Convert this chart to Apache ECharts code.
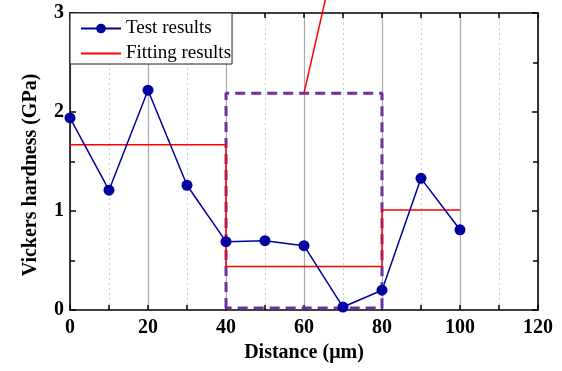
<!DOCTYPE html>
<html>
<head>
<meta charset="utf-8">
<script src="https://cdn.jsdelivr.net/npm/echarts@6/dist/echarts.min.js"></script>
<style>html,body{margin:0;padding:0;background:#fff}#c{width:562px;height:371px}</style>
</head>
<body>
<div id="c"></div>
<script>
// Test results
const distances = [0, 10, 20, 30, 40, 50, 60, 70, 80, 90, 100];
const hardness = [1.94, 1.21, 2.22, 1.26, 0.69, 0.70, 0.65, 0.03, 0.20, 1.33, 0.81];
// Fitting results (step fit)
const fitX = [0, 40, 40, 80, 80, 100];
const fitY = [1.67, 1.67, 0.44, 0.44, 1.01, 1.01];
// Fitting pointer line leaving the plot
const pointerX = [60, 67];
const pointerY = [2.19, 3.4];
// Highlighted region (dashed box)
const boxX = [40, 40, 80, 80, 40];
const boxY = [0.02, 2.19, 2.19, 0.02, 0.02];
const xTicks = [0, 20, 40, 60, 80, 100, 120];
const yTicks = [0, 1, 2, 3];

const serif = 'Liberation Serif, Times New Roman, serif';
const zip = (a, b) => a.map((v, i) => [v, b[i]]);

const chart = echarts.init(document.getElementById('c'), null, {renderer: 'canvas'});
const axisLine = {show: true, onZero: false, lineStyle: {color: '#000', width: 1.5}};
chart.setOption({
  animation: false,
  backgroundColor: '#fff',
  grid: {left: 70, right: 24, top: 13, bottom: 61, containLabel: false},
  legend: {
    data: ['Test results', {name: 'Fitting results', itemStyle: {opacity: 0}}],
    orient: 'vertical',
    left: 70, top: 13,
    backgroundColor: '#fff',
    borderColor: '#222', borderWidth: 1, borderRadius: 0,
    padding: [6, 1, 1, 10],
    itemWidth: 40, itemHeight: 12, itemGap: 6,
    textStyle: {fontFamily: serif, fontSize: 19, color: '#000'},
    z: 10
  },
  xAxis: [{
    type: 'value', min: xTicks[0], max: xTicks[xTicks.length - 1], interval: 20,
    name: 'Distance (μm)', nameLocation: 'middle', nameGap: 33,
    nameTextStyle: {fontFamily: serif, fontSize: 20, fontWeight: 'bold', color: '#000'},
    axisLine: axisLine,
    axisTick: {show: true, inside: true, length: 5, lineStyle: {color: '#000', width: 1.5}},
    minorTick: {show: true, splitNumber: 2, length: 5, lineStyle: {color: '#000', width: 1.5}},
    axisLabel: {fontFamily: serif, fontSize: 20, fontWeight: 'bold', color: '#000', margin: 8},
    splitLine: {show: true, lineStyle: {color: '#aaa', width: 1.2}},
    minorSplitLine: {show: true, lineStyle: {color: '#ccc', width: 1, type: [2, 3]}}
  }, {
    type: 'value', position: 'top', min: 0, max: 120, interval: 20,
    axisLine: axisLine,
    axisTick: {show: true, inside: true, length: 5, lineStyle: {color: '#000', width: 1.5}},
    minorTick: {show: true, splitNumber: 2, length: 5, lineStyle: {color: '#000', width: 1.5}},
    axisLabel: {show: false}, splitLine: {show: false}
  }],
  yAxis: [{
    type: 'value', min: yTicks[0], max: yTicks[yTicks.length - 1], interval: 1,
    name: 'Vickers hardness (GPa)', nameLocation: 'middle', nameGap: 29,
    nameTextStyle: {fontFamily: serif, fontSize: 20, fontWeight: 'bold', color: '#000', padding: [0, 27, 0, 0]},
    axisLine: axisLine,
    axisTick: {show: true, inside: true, length: 6, lineStyle: {color: '#000', width: 1.5}},
    minorTick: {show: true, splitNumber: 2, length: 5, lineStyle: {color: '#000', width: 1.5}},
    axisLabel: {fontFamily: serif, fontSize: 20, fontWeight: 'bold', color: '#000', margin: 6},
    splitLine: {show: false}
  }, {
    type: 'value', position: 'right', min: 0, max: 3, interval: 1,
    axisLine: axisLine,
    axisTick: {show: true, inside: true, length: 6, lineStyle: {color: '#000', width: 1.5}},
    minorTick: {show: true, splitNumber: 2, length: 5, lineStyle: {color: '#000', width: 1.5}},
    axisLabel: {show: false}, splitLine: {show: false}
  }],
  series: [{
    name: 'Highlight', type: 'line', data: zip(boxX, boxY),
    symbol: 'none', silent: true, z: 1,
    lineStyle: {color: '#7030a0', width: 3, type: [10, 6]}
  }, {
    name: 'Fitting results', type: 'line', data: zip(fitX, fitY),
    symbol: 'none', z: 2,
    lineStyle: {color: '#ff0000', width: 1.5}, itemStyle: {color: '#ff0000'}
  }, {
    name: 'Fitting results', type: 'line', data: zip(pointerX, pointerY),
    symbol: 'none', clip: false, z: 2,
    lineStyle: {color: '#ff0000', width: 1.5}, itemStyle: {color: '#ff0000'}
  }, {
    name: 'Test results', type: 'line', data: zip(distances, hardness),
    symbol: 'circle', symbolSize: 11, z: 3,
    lineStyle: {color: '#0000a0', width: 1.5}, itemStyle: {color: '#0000a0'}
  }]
});
</script>
</body>
</html>
